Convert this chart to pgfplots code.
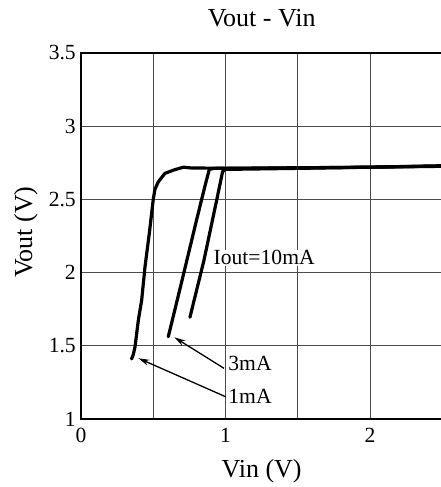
\documentclass[border=0pt]{standalone}
\usepackage{fontspec}
\setmainfont{Liberation Serif}
\usepackage{pgfplots}
\pgfplotsset{compat=1.18}
\usetikzlibrary{arrows.meta}
\begin{document}
\begin{tikzpicture}
\begin{axis}[
  at={(0,0)}, anchor=south west,
  scale only axis,
  width=361.25pt, height=366pt,
  xmin=0, xmax=2.5,
  ymin=1, ymax=3.5,
  xtick={0,1,2},
  minor xtick={0.5,1.5},
  ytick={1,1.5,2,2.5,3,3.5},
  major tick length=0pt, minor tick length=0pt,
  grid=both,
  major grid style={black!70, line width=0.9pt},
  minor grid style={black!70, line width=0.9pt},
  axis line style={black, line width=1.2pt},
  /pgf/number format/assume math mode=true,
  ticklabel style={font=\fontsize{21.6}{24}\selectfont},
  yticklabel style={inner sep=0pt, anchor=east, xshift=-5pt},
  xticklabel style={inner sep=0pt, anchor=north, yshift=-9pt},
  title={Vout - Vin},
  title style={at={(0.5,1)}, anchor=base, yshift=20pt, font=\fontsize{26}{30}\selectfont},
  xlabel={Vin (V)},
  xlabel style={at={(axis description cs:0.5,0)}, anchor=base, yshift=-58pt, font=\fontsize{26}{30}\selectfont},
  ylabel={Vout (V)},
  ylabel style={at={(axis description cs:-0.1356,0.511)}, anchor=base, font=\fontsize{26}{30}\selectfont},
]

% Iout = 1mA
\addplot[black, line width=3.2pt, line join=round, line cap=round] coordinates {
  (0.350,1.410) (0.362,1.440) (0.374,1.494) (0.397,1.676) (0.420,1.813)
  (0.443,2.040) (0.473,2.270) (0.500,2.500) (0.512,2.570) (0.535,2.620)
  (0.581,2.678) (0.640,2.700) (0.708,2.720) (0.760,2.715) (1.000,2.712)
  (1.500,2.715) (2.000,2.720) (2.500,2.730)
};

% Iout = 3mA
\addplot[black, line width=3.2pt, line join=round, line cap=round] coordinates {
  (0.604,1.562) (0.700,1.950) (0.800,2.360) (0.860,2.600) (0.888,2.705)
  (0.920,2.712) (1.500,2.716) (2.000,2.720) (2.500,2.728)
};

% Iout = 10mA
\addplot[black, line width=3.2pt, line join=round, line cap=round] coordinates {
  (0.754,1.695) (0.850,2.080) (0.940,2.500) (0.980,2.690) (1.000,2.705)
  (1.500,2.712) (2.000,2.720) (2.500,2.726)
};

\node[fill=white, inner sep=1pt, anchor=base west, font=\fontsize{21.6}{24}\selectfont]
  at (axis cs:0.910,2.052) {Iout=10mA};
\node[inner sep=0pt, anchor=base west, font=\fontsize{21.6}{24}\selectfont]
  at (axis cs:1.019,1.330) {3mA};
\node[inner sep=0pt, anchor=base west, font=\fontsize{21.6}{24}\selectfont]
  at (axis cs:1.019,1.107) {1mA};

\draw[-{Stealth[length=11pt,width=6pt]}, line width=1.3pt]
  (axis cs:0.990,1.346) -- (axis cs:0.646,1.558);
\draw[-{Stealth[length=11pt,width=6pt]}, line width=1.3pt]
  (axis cs:1.001,1.152) -- (axis cs:0.397,1.415);
\end{axis}
\pgfresetboundingbox
\path[use as bounding box] (-81pt,-68pt) rectangle (359pt,419pt);
\end{tikzpicture}
\end{document}
